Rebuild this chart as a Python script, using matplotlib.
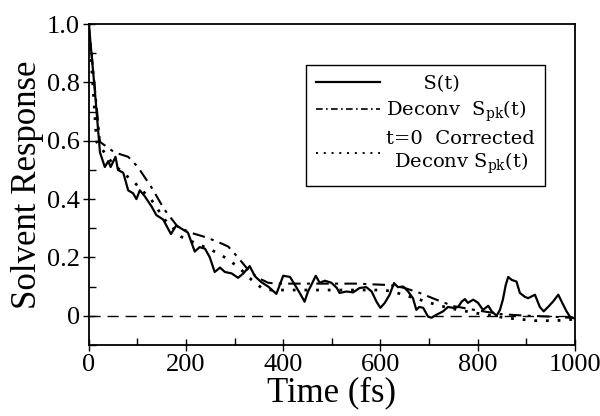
import matplotlib
matplotlib.use("Agg")
import matplotlib.pyplot as plt
from matplotlib.lines import Line2D
from matplotlib.ticker import MultipleLocator, FuncFormatter

# S(t)
s_time = [0, 12, 23, 33, 40, 45, 55, 60, 71, 81, 91, 98, 105, 115, 129, 139,
          153, 169, 180, 194, 204, 218, 228, 239, 249, 259, 270, 280, 294, 307,
          318, 331, 342, 355, 369, 386, 400, 414, 420, 434, 444, 451, 458, 467,
          475, 486, 499, 510, 516, 530, 544, 557, 571, 582, 592, 600, 609, 619,
          628, 636, 647, 657, 667, 674, 680, 688, 698, 705, 715, 729, 739, 750,
          760, 767, 774, 780, 791, 801, 811, 822, 829, 839, 846, 852, 858, 863,
          870, 880, 887, 897, 904, 918, 928, 936, 945, 955, 966, 973, 983, 990,
          1000]
s_vals = [1.0, 0.78, 0.56, 0.51, 0.53, 0.51, 0.545, 0.50, 0.49, 0.43, 0.42,
          0.40, 0.43, 0.41, 0.375, 0.345, 0.33, 0.28, 0.31, 0.295, 0.285, 0.22,
          0.235, 0.23, 0.20, 0.15, 0.165, 0.15, 0.145, 0.13, 0.145, 0.17, 0.135,
          0.115, 0.10, 0.075, 0.137, 0.133, 0.117, 0.078, 0.048, 0.083, 0.106,
          0.137, 0.113, 0.12, 0.113, 0.096, 0.078, 0.083, 0.08, 0.095, 0.098,
          0.083, 0.048, 0.027, 0.044, 0.072, 0.112, 0.098, 0.10, 0.083, 0.06,
          0.02, 0.03, 0.027, -0.003, -0.007, 0.003, 0.015, 0.03, 0.027, 0.03,
          0.048, 0.057, 0.044, 0.055, 0.044, 0.02, 0.034, 0.015, 0.0, 0.02,
          0.055, 0.106, 0.133, 0.123, 0.117, 0.078, 0.065, 0.06, 0.072, 0.03,
          0.015, 0.03, 0.048, 0.072, 0.048, 0.015, -0.003, -0.01]

# deconvolved S_pk(t)
dec_time = [0, 23, 53, 81, 101, 129, 156, 183, 211, 239, 266, 287, 307, 328,
            348, 369, 386, 450, 550, 620, 650, 681, 715, 750, 800, 850, 900,
            950, 1000]
dec_vals = [1.0, 0.596, 0.56, 0.545, 0.51, 0.44, 0.363, 0.305, 0.284, 0.27,
            0.253, 0.237, 0.20, 0.157, 0.13, 0.113, 0.11, 0.11, 0.11, 0.105,
            0.095, 0.078, 0.055, 0.033, 0.018, 0.005, 0.0, -0.003, -0.008]

# t=0 corrected deconvolved S_pk(t)
cor_time = [0, 16, 50, 95, 129, 156, 191, 218, 252, 280, 307, 335, 355, 375,
            400, 500, 600, 620, 647, 681, 720, 760, 800, 830, 860, 918, 960,
            1000]
cor_vals = [1.0, 0.596, 0.52, 0.455, 0.397, 0.33, 0.27, 0.25, 0.226, 0.20,
            0.168, 0.123, 0.096, 0.088, 0.088, 0.088, 0.088, 0.085, 0.072,
            0.055, 0.035, 0.02, 0.008, 0.0, -0.008, -0.017, -0.017, -0.012]

plt.rcParams["font.family"] = "Liberation Serif"
plt.rcParams["mathtext.fontset"] = "dejavuserif"

fig = plt.figure(figsize=(6.0, 4.16), dpi=100)
ax = fig.add_axes([0.148, 0.171, 0.81, 0.771])

ax.axhline(0, color="black", lw=1.0, ls=(0, (8, 5)))
ax.plot(s_time, s_vals, color="black", lw=1.6)
ax.plot(dec_time, dec_vals, color="black", lw=1.5, ls=(0, (6, 3, 1.5, 3)))
ax.plot(cor_time, cor_vals, color="black", lw=2.0, ls=(0, (1, 3.2)))

ax.set_xlim(0, 1000)
ax.set_ylim(-0.1, 1.0)
ax.xaxis.set_major_locator(MultipleLocator(200))
ax.xaxis.set_minor_locator(MultipleLocator(100))
ax.yaxis.set_major_locator(MultipleLocator(0.2))
ax.yaxis.set_minor_locator(MultipleLocator(0.1))
ax.yaxis.set_major_formatter(FuncFormatter(lambda v, p: "0" if abs(v) < 1e-9 else f"{v:.1f}"))
ax.tick_params(which="major", direction="inout", length=9, width=1.0,
               labelsize=19, pad=2)
ax.tick_params(which="minor", direction="in", length=5, width=1.0)
for sp in ax.spines.values():
    sp.set_linewidth(1.3)

ax.set_xlabel("Time (fs)", fontsize=25, labelpad=0)
ax.set_ylabel("Solvent Response", fontsize=25, labelpad=2)

handles = [
    Line2D([], [], color="black", lw=1.6),
    Line2D([], [], color="black", lw=1.2, ls=(0, (4, 2, 1, 2))),
    Line2D([], [], color="black", lw=1.4, ls=(0, (1, 3))),
]
labels = [
    "      S(t)",
    r"Deconv  $\mathrm{S_{pk}}$(t)",
    "t=0  Corrected\n" + r"Deconv $\mathrm{S_{pk}}$(t)",
]
leg = ax.legend(handles, labels, loc="upper right",
                bbox_to_anchor=(0.938, 0.872), borderaxespad=0,
                fancybox=False, edgecolor="black", framealpha=1,
                handlelength=3.3, handletextpad=0.3, labelspacing=0.3,
                borderpad=0.5,
                prop={"family": "DejaVu Serif", "size": 14})
leg.get_frame().set_linewidth(1.0)
for txt in leg.get_texts():
    txt.set_multialignment("center")

fig.savefig("out.png", dpi=100)
